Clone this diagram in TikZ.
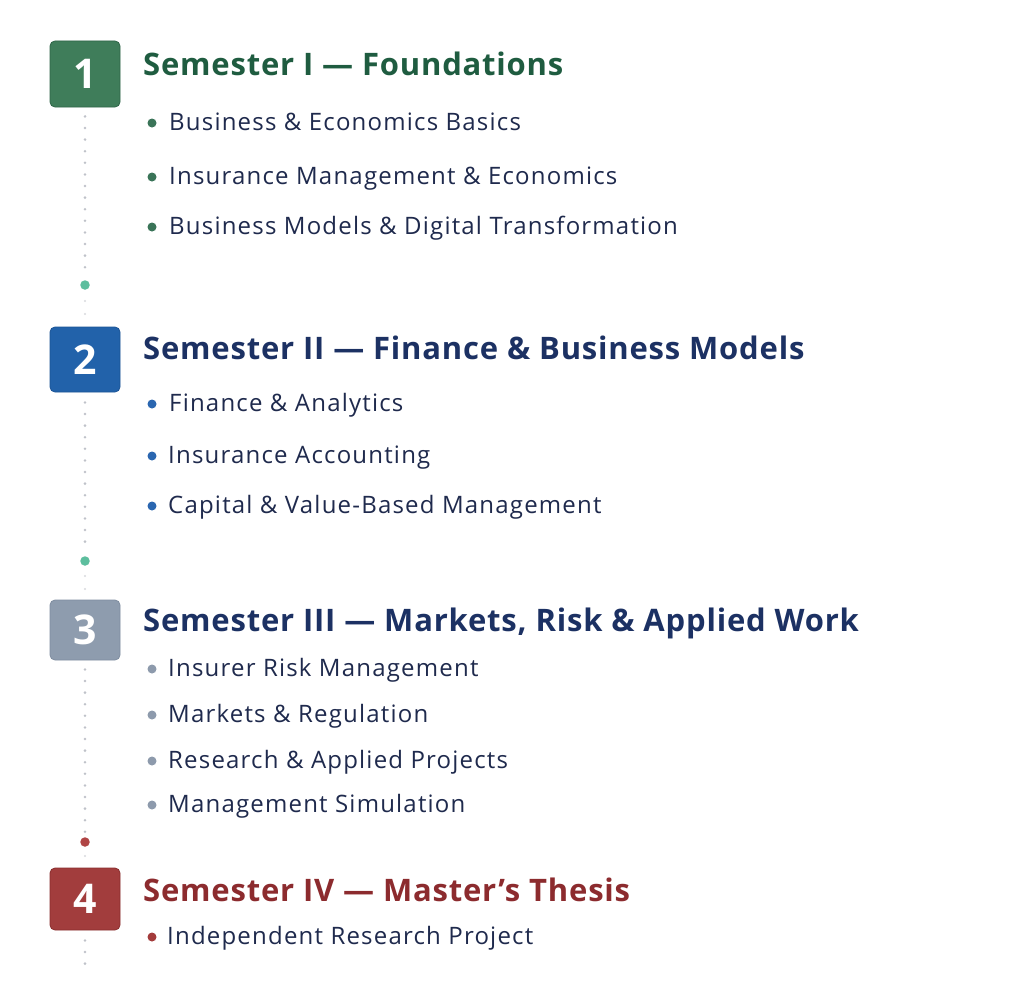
\documentclass[tikz,border=0pt]{standalone}
\usepackage{fontspec}
\setmainfont{Open Sans}
\newfontfamily\itemfont[LetterSpace=5]{Open Sans}
\newfontfamily\titlefont[LetterSpace=2.6]{Open Sans}
\usetikzlibrary{calc}
\definecolor{gbox}{HTML}{3F7D5A}
\definecolor{gboxd}{HTML}{2F6548}
\definecolor{gtitle}{HTML}{1F5C40}
\definecolor{gbul}{HTML}{3A7458}
\definecolor{bbox}{HTML}{2262AA}
\definecolor{bboxd}{HTML}{1B5496}
\definecolor{navy}{HTML}{1C3163}
\definecolor{bbul}{HTML}{2A66B0}
\definecolor{sbox}{HTML}{8E9CAE}
\definecolor{sboxd}{HTML}{7F8DA0}
\definecolor{sbul}{HTML}{8D9AAC}
\definecolor{rbox}{HTML}{A23D3D}
\definecolor{rboxd}{HTML}{8A2E2E}
\definecolor{rtitle}{HTML}{8C2B2E}
\definecolor{rbul}{HTML}{A33B3B}
\definecolor{itemc}{HTML}{1F2A4D}
\definecolor{dotc}{HTML}{BFC2C9}
\definecolor{dotf}{HTML}{D8DADE}
\definecolor{teal}{HTML}{5DBE9E}
\definecolor{redm}{HTML}{B04545}
\begin{document}
\begin{tikzpicture}[x=1pt,y=-1pt,
  semnum/.style={rounded corners=5pt, minimum width=70pt, inner sep=0pt, line width=0.8pt, text=white, font=\bfseries\fontsize{41}{41}\selectfont},
  semtitle/.style={anchor=base west, inner sep=0pt, font=\titlefont\bfseries\fontsize{31}{31}\selectfont},
  item/.style={anchor=base west, inner sep=0pt, text=itemc, font=\itemfont\fontsize{24}{24}\selectfont},
  bul/.style={circle, inner sep=0pt, minimum size=9pt},
  dotline/.style={draw=dotc, line width=2.8pt, line cap=round, dash pattern=on 0pt off 11.6pt},
  fadeline/.style={draw=dotf, line width=2.2pt, line cap=round, dash pattern=on 0pt off 13pt},
  milestone/.style={circle, inner sep=0pt, minimum size=9.5pt}]
\useasboundingbox[fill=white] (0,0) rectangle (1024,990);

% boxes
\node[semnum, fill=gbox, draw=gboxd, minimum height=66pt] (b1) at (85,74) {1};
\node[semnum, fill=bbox, draw=bboxd, minimum height=65pt] (b2) at (85,359.5) {2};
\node[semnum, fill=sbox, draw=sboxd, minimum height=60pt] (b3) at (85,630) {3};
\node[semnum, fill=rbox, draw=rboxd, minimum height=62pt] (b4) at (85,899) {4};

% milestones
\node[milestone, fill=teal] (m1) at (85,285) {};
\node[milestone, fill=teal] (m2) at (85,561) {};
\node[milestone, fill=redm] (m3) at (85,842) {};
\coordinate (e4) at (85,964);

% dotted connectors
\draw[dotline] ($(b1.south)+(0,9)$) -- ($(m1.center)+(0,-12)$);
\draw[fadeline] ($(m1.center)+(0,16)$) -- ($(b2.north)+(0,-10)$);
\draw[dotline] ($(b2.south)+(0,10)$) -- ($(m2.center)+(0,-12)$);
\draw[fadeline] ($(m2.center)+(0,15)$) -- ($(b3.north)+(0,-10)$);
\draw[dotline] ($(b3.south)+(0,9)$) -- ($(m3.center)+(0,-10)$);
\draw[fadeline] ($(m3.center)+(0,14)$) -- ($(b4.north)+(0,-10)$);
\draw[dotline] ($(b4.south)+(0,10)$) -- (e4);

% Semester I
\node[semtitle, text=gtitle] (t1) at (143,75) {Semester I — Foundations};
\node[bul, fill=gbul] (d11) at (152,123) {};
\node[item] (i11) at (169,130) {Business \& Economics Basics};
\node[bul, fill=gbul] (d12) at (152,177) {};
\node[item] (i12) at (169,184) {Insurance Management \& Economics};
\node[bul, fill=gbul] (d13) at (152,227) {};
\node[item] (i13) at (169,234) {Business Models \& Digital Transformation};

% Semester II
\node[semtitle, text=navy] (t2) at (143,359) {Semester II — Finance \& Business Models};
\node[bul, fill=bbul] (d21) at (152,404) {};
\node[item] (i21) at (169,411) {Finance \& Analytics};
\node[bul, fill=bbul] (d22) at (152,456) {};
\node[item] (i22) at (168,463) {Insurance Accounting};
\node[bul, fill=bbul] (d23) at (152,506) {};
\node[item] (i23) at (168,513) {Capital \& Value-Based Management};

% Semester III
\node[semtitle, text=navy] (t3) at (143,631) {Semester III — Markets, Risk \& Applied Work};
\node[bul, fill=sbul] (d31) at (152,669) {};
\node[item] (i31) at (168,676) {Insurer Risk Management};
\node[bul, fill=sbul] (d32) at (152,715) {};
\node[item] (i32) at (168,722) {Markets \& Regulation};
\node[bul, fill=sbul] (d33) at (152,761) {};
\node[item] (i33) at (168,768) {Research \& Applied Projects};
\node[bul, fill=sbul] (d34) at (152,805) {};
\node[item] (i34) at (168,812) {Management Simulation};

% Semester IV
\node[semtitle, text=rtitle] (t4) at (143,901) {Semester IV — Master’s Thesis};
\node[bul, fill=rbul] (d41) at (152,937) {};
\node[item] (i41) at (167,944) {Independent Research Project};
\end{tikzpicture}
\end{document}
